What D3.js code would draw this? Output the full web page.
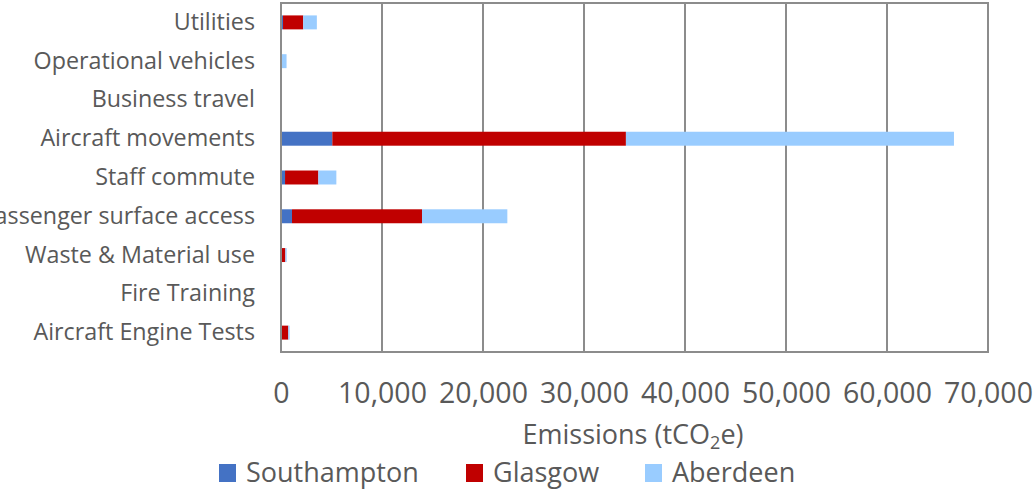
<!DOCTYPE html>
<html>
<head>
<meta charset="utf-8">
<script src="https://cdn.jsdelivr.net/npm/d3@7"></script>
<style>
  html, body { margin: 0; padding: 0; background: #fff; }
  svg { display: block; }
  text { font-family: "Open Sans", "Noto Sans", sans-serif; fill: #595959; }
</style>
</head>
<body>
<svg id="chart" width="1035" height="490"></svg>
<script>
// Emission sources, listed top to bottom
const categories = [
  "Utilities",
  "Operational vehicles",
  "Business travel",
  "Aircraft movements",
  "Staff commute",
  "Passenger surface access",
  "Waste & Material use",
  "Fire Training",
  "Aircraft Engine Tests"
];

const airports = ["Southampton", "Glasgow", "Aberdeen"];

// tCO2e per airport, same order as categories
const southampton = [200, 20, 20, 5080, 400, 1090, 30, 10, 0];
const glasgow     = [2000, 30, 30, 29070, 3300, 12870, 400, 10, 720];
const aberdeen    = [1350, 500, 20, 32480, 1780, 8450, 130, 10, 130];

const xTicks = [0, 10000, 20000, 30000, 40000, 50000, 60000, 70000];

const colors = ["#4472C4", "#C00000", "#99CCFF"];

const svg = d3.select("#chart");
const margin = { left: 281, right: 1035 - 988, top: 3, bottom: 490 - 352 };
const W = 1035, H = 490;

const rows = categories.map((c, i) => ({
  category: c,
  Southampton: southampton[i],
  Glasgow: glasgow[i],
  Aberdeen: aberdeen[i]
}));

const stacked = d3.stack().keys(airports)(rows);

const x = d3.scaleLinear().domain([0, 70000]).range([margin.left, W - margin.right]);
const y = d3.scaleBand().domain(categories).range([margin.top, H - margin.bottom]).paddingInner(0.64).paddingOuter(0.32);

// vertical gridlines
svg.append("g")
  .selectAll("line")
  .data(xTicks.slice(1))
  .join("line")
  .attr("x1", d => x(d)).attr("x2", d => x(d))
  .attr("y1", margin.top).attr("y2", H - margin.bottom)
  .attr("stroke", "#8c8c8c").attr("stroke-width", 2);

// plot frame
svg.append("rect")
  .attr("x", margin.left).attr("y", margin.top)
  .attr("width", x(70000) - x(0)).attr("height", H - margin.bottom - margin.top)
  .attr("fill", "none").attr("stroke", "#8c8c8c").attr("stroke-width", 2);

// stacked bars
svg.append("g")
  .selectAll("g")
  .data(stacked)
  .join("g")
  .attr("fill", (d, i) => colors[i])
  .selectAll("rect")
  .data(d => d)
  .join("rect")
  .attr("x", d => x(d[0]))
  .attr("width", d => Math.max(0, x(d[1]) - x(d[0])))
  .attr("y", d => y(d.data.category))
  .attr("height", y.bandwidth());

// left axis line
svg.append("line")
  .attr("x1", x(0)).attr("x2", x(0))
  .attr("y1", margin.top).attr("y2", H - margin.bottom)
  .attr("stroke", "#8c8c8c").attr("stroke-width", 2);

// category labels
const yAxis = d3.axisLeft(y).tickSize(0).tickPadding(26);
const gy = svg.append("g").attr("transform", `translate(${x(0)},0)`).call(yAxis);
gy.select(".domain").remove();
gy.selectAll("text").style("font-size", "23.3px").attr("fill", "#595959");

// value axis labels
const fmt = d3.format(",");
const xAxis = d3.axisBottom(x).tickValues(xTicks).tickFormat(fmt).tickSize(0).tickPadding(0);
const gx = svg.append("g").attr("transform", `translate(0,${H - margin.bottom})`).call(xAxis);
gx.select(".domain").remove();
gx.selectAll("text").attr("dy", null).attr("y", 51).style("font-size", "28.5px").attr("fill", "#595959");

// axis title with subscript
const title = svg.append("text")
  .attr("x", 633).attr("y", 444)
  .attr("text-anchor", "middle")
  .style("font-size", "27px");
title.append("tspan").text("Emissions (tCO");
title.append("tspan").attr("baseline-shift", "-30%").style("font-size", "18px").text("2");
title.append("tspan").text("e)");

// legend
const legendX = [219, 466, 645];
const lg = svg.append("g").selectAll("g").data(airports).join("g")
  .attr("transform", (d, i) => `translate(${legendX[i]},464)`);
lg.append("rect").attr("width", 17).attr("height", 18).attr("fill", (d, i) => colors[i]);
lg.append("text").attr("x", 27).attr("y", 18).style("font-size", "27px").text(d => d);
</script>
</body>
</html>
